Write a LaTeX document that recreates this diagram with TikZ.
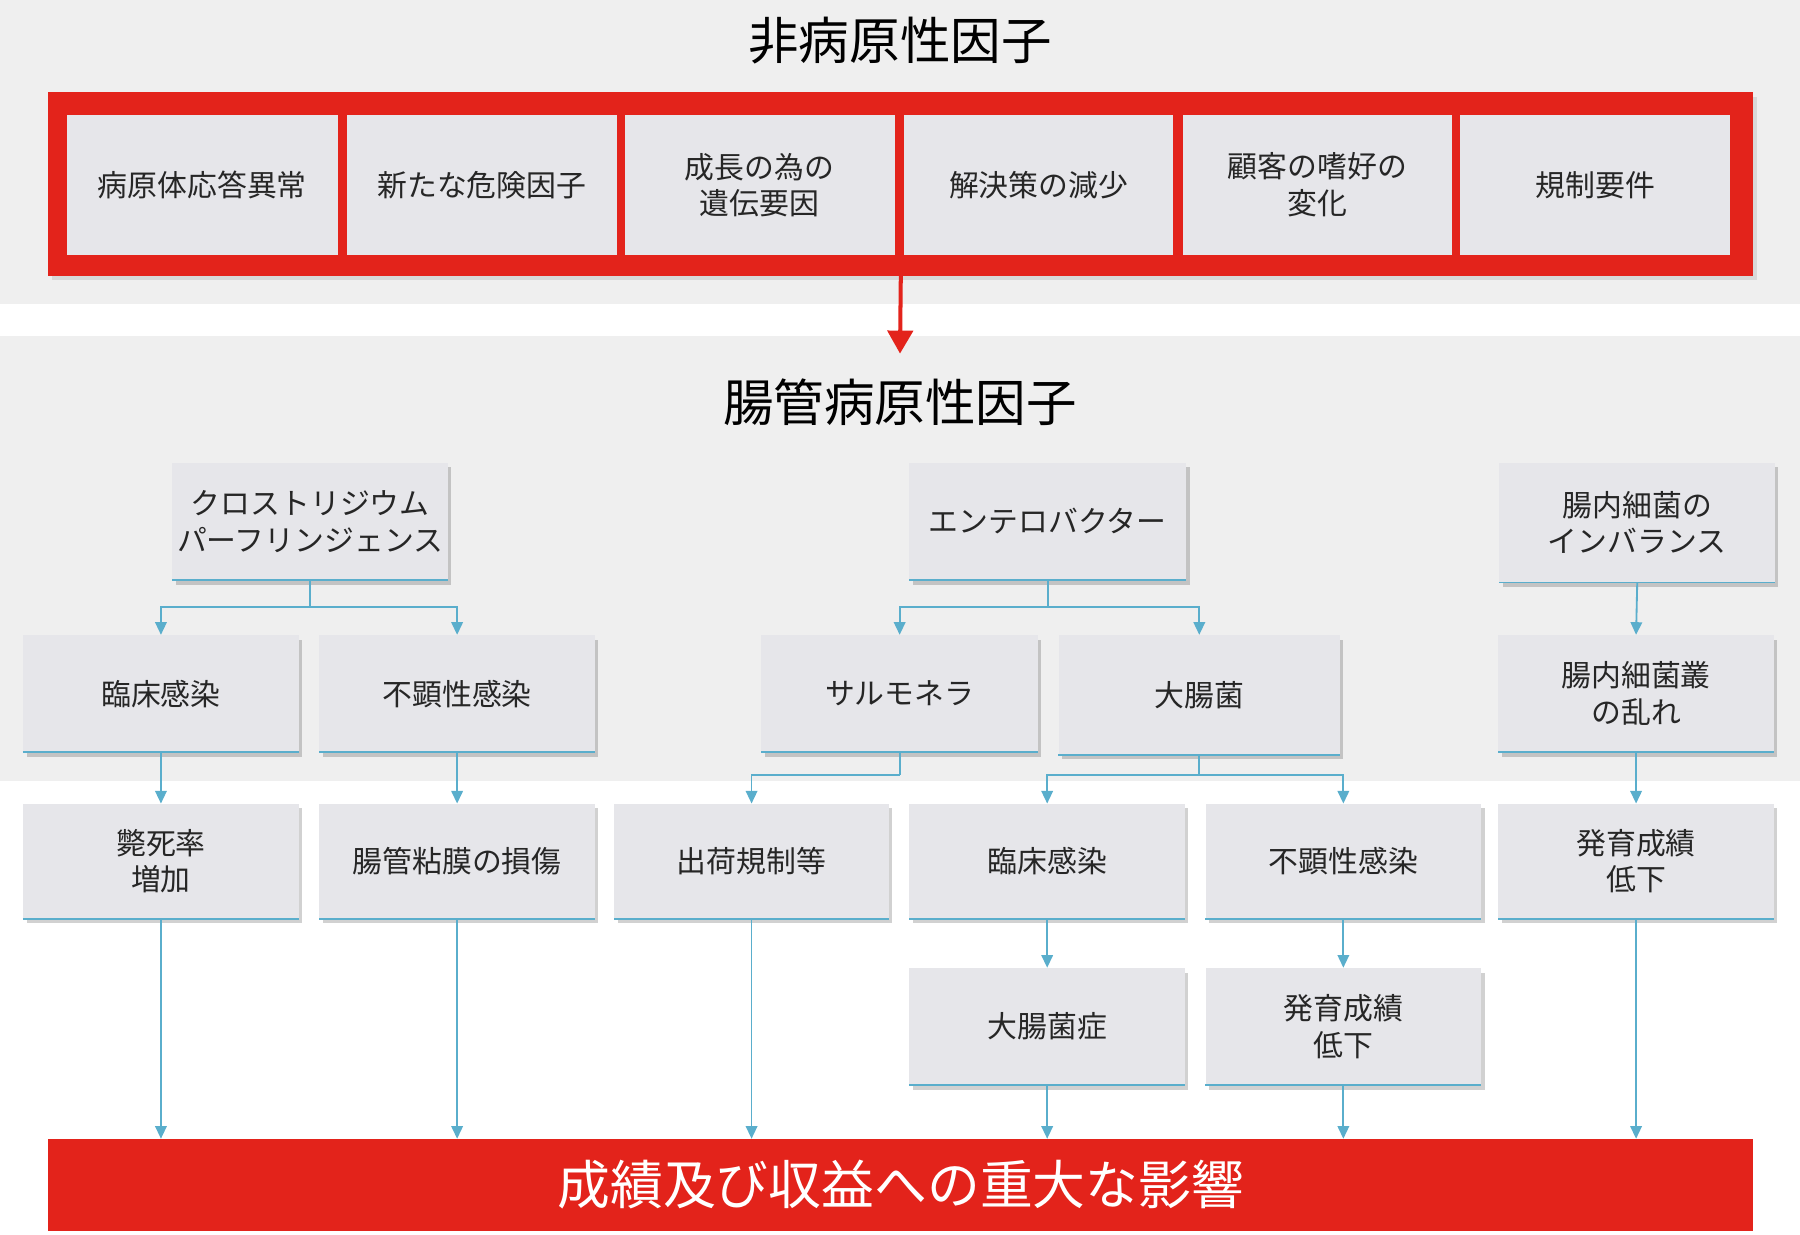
\documentclass[tikz,border=0pt]{standalone}
\usepackage{fontspec}
\setmainfont{Noto Sans CJK JP}
\usetikzlibrary{shadows,arrows.meta}
\definecolor{bgg}{HTML}{EFEFEF}
\definecolor{boxg}{HTML}{E6E6EA}
\definecolor{rd}{HTML}{E3231B}
\definecolor{bl}{HTML}{5AAECC}
\tikzset{
 box/.style={fill=boxg,anchor=north west,inner sep=0pt,align=center,font=\fontsize{26}{32}\selectfont,text=black!85},
 sbox/.style={box,drop shadow={shadow xshift=3pt,shadow yshift=-4pt,fill=black,opacity=0.18}},
 blu/.style={draw=bl,line width=1.6pt},
 arr/.style={blu,-{Triangle[length=11pt,width=10pt]}},
}
\newcommand{\bx}[7][sbox]{%
 \pgfmathsetlengthmacro{\ww}{(#5-#3)*1pt}\pgfmathsetlengthmacro{\hh}{(#6-#4)*1pt}%
 \node[#1,minimum width=\ww,minimum height=\hh] (#2) at (#3,#4) {#7};}
\newcommand{\bb}[6]{\bx{#1}{#2}{#3}{#4}{#5}{#6}\draw[blu] (#1.south west)--(#1.south east);}
\begin{document}
\begin{tikzpicture}[x=1pt,y=-1pt]
\useasboundingbox (0,0) rectangle (1568,1075);
\fill[bgg] (0,0) rectangle (1568,265);
\fill[bgg] (0,293) rectangle (1568,680);
\node[font=\fontsize{44}{50}\selectfont] (t1) at (784,35) {非病原性因子};
\node[fill=rd,minimum width=1485pt,minimum height=160pt,anchor=north west,drop shadow={shadow xshift=3pt,shadow yshift=-4pt,opacity=0.2}] (frame) at (42,80) {};
\bx[box]{a1}{58}{100}{294}{222}{病原体応答異常}
\bx[box]{a2}{302}{100}{537}{222}{新たな危険因子}
\bx[box]{a3}{544}{100}{779}{222}{成長の為の\\遺伝要因}
\bx[box]{a4}{787}{100}{1022}{222}{解決策の減少}
\bx[box]{a5}{1030}{100}{1265}{222}{顧客の嗜好の\\変化}
\bx[box]{a6}{1272}{100}{1507}{222}{規制要件}
\coordinate (rt) at (784,308);
\draw[rd,line width=3.5pt,-{Triangle[length=20pt,width=22pt]}] (frame.south) -- (rt);
\node[font=\fontsize{44}{50}\selectfont] (t2) at (784,350) {腸管病原性因子};
% row1
\bb{c}{150}{403}{390}{505}{クロストリジウム\\パーフリンジェンス}
\bb{e}{792}{403}{1033}{505}{エンテロバクター}
\bb{m}{1306}{403}{1546}{507}{腸内細菌の\\インバランス}
% row2
\bb{c1}{20}{553}{260}{655}{臨床感染}
\bb{c2}{278}{553}{518}{655}{不顕性感染}
\bb{s}{663}{553}{904}{655}{サルモネラ}
\bb{k}{922}{553}{1167}{657}{大腸菌}
\bb{m1}{1305}{553}{1545}{655}{腸内細菌叢\\の乱れ}
% row3
\bb{r1}{20}{700}{260}{800}{斃死率\\増加}
\bb{r2}{278}{700}{518}{800}{腸管粘膜の損傷}
\bb{r3}{535}{700}{774}{800}{出荷規制等}
\bb{r4}{792}{700}{1032}{800}{臨床感染}
\bb{r5}{1050}{700}{1290}{800}{不顕性感染}
\bb{r6}{1305}{700}{1545}{800}{発育成績\\低下}
% row4
\bb{q1}{792}{843}{1032}{945}{大腸菌症}
\bb{q2}{1050}{843}{1290}{945}{発育成績\\低下}
% bottom bar
\node[fill=rd,anchor=north west,minimum width=1485pt,minimum height=80pt,text=white,font=\fontsize{46}{52}\selectfont] (res) at (42,992) {成績及び収益への重大な影響};
% connectors
\draw[blu] (c.south) -- ++(0,23) coordinate (cj);
\draw[arr] (cj) -| (c1.north);
\draw[arr] (cj) -| (c2.north);
\draw[blu] (e.south) -- ++(0,23) coordinate (ej);
\draw[arr] (ej) -| (s.north);
\draw[arr] (ej) -| (k.north);
\draw[arr] (m.south) -- (m1.north);
\draw[arr] (c1.south) -- (r1.north);
\draw[arr] (c2.south) -- (r2.north);
\draw[blu] (s.south) -- ++(0,20) coordinate (sj);
\draw[arr] (sj) -| (r3.north);
\draw[blu] (k.south) -- ++(0,18) coordinate (kj);
\draw[arr] (kj) -| (r4.north);
\draw[arr] (kj) -| (r5.north);
\draw[arr] (m1.south) -- (r6.north);
\draw[arr] (r4.south) -- (q1.north);
\draw[arr] (r5.south) -- (q2.north);
\draw[arr] (r1.south) -- (r1.south |- res.north);
\draw[arr] (r2.south) -- (r2.south |- res.north);
\draw[arr] (r3.south) -- (r3.south |- res.north);
\draw[arr] (q1.south) -- (q1.south |- res.north);
\draw[arr] (q2.south) -- (q2.south |- res.north);
\draw[arr] (r6.south) -- (r6.south |- res.north);
\end{tikzpicture}
\end{document}
